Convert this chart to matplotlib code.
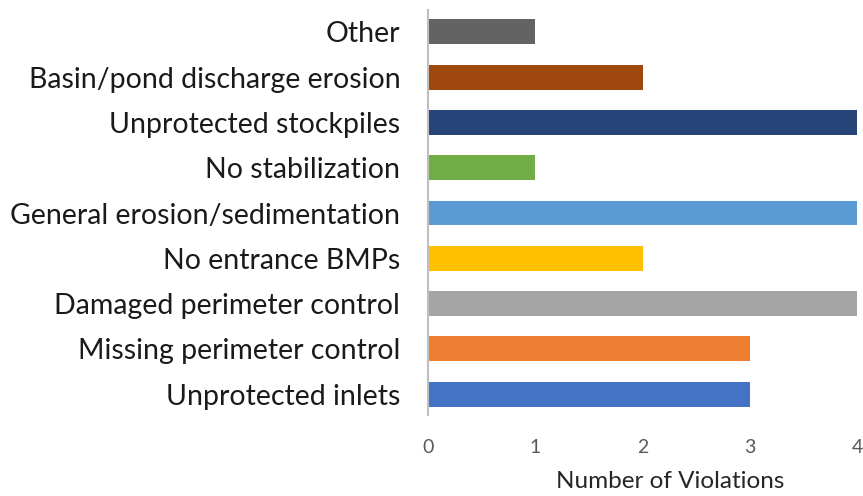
import matplotlib
matplotlib.use("Agg")
import matplotlib.pyplot as plt

categories = ["Unprotected inlets", "Missing perimeter control", "Damaged perimeter control",
              "No entrance BMPs", "General erosion/sedimentation", "No stabilization",
              "Unprotected stockpiles", "Basin/pond discharge erosion", "Other"]
values = [3, 3, 4, 2, 4, 1, 4, 2, 1]
colors = ["#4472C4", "#ED7D31", "#A5A5A5", "#FFC000", "#5B9BD5", "#70AD47",
          "#264478", "#9E480E", "#636363"]
xticks = [0, 1, 2, 3, 4]

plt.rcParams['font.family'] = ['Lato', 'DejaVu Sans']
fig = plt.figure(figsize=(8.63, 4.96), dpi=100)
ax = fig.add_axes([0.496, 0.163, 0.497, 0.817])
ypos = list(range(len(categories)))
ax.barh(ypos, values, height=0.55, color=colors)
ax.set_xlim(0, 4)
ax.set_ylim(-0.464, 8.486)
ax.set_yticks(ypos)
ax.set_yticklabels(categories, fontsize=20.5, color="#1a1a1a")
ax.set_xticks(xticks)
ax.set_xticklabels([str(t) for t in xticks], fontsize=14, color="#595959")
ax.tick_params(axis='both', length=0)
ax.tick_params(axis='x', pad=17)
ax.tick_params(axis='y', pad=20)
for s in ["top", "right", "bottom"]:
    ax.spines[s].set_visible(False)
ax.spines["left"].set_color("#BFBFBF")
ax.spines["left"].set_linewidth(1.5)
ax.set_xlabel("Number of Violations", fontsize=17.5, color="#262626")
ax.xaxis.set_label_coords(0.565, -0.138)
fig.savefig("out.png", dpi=100)
